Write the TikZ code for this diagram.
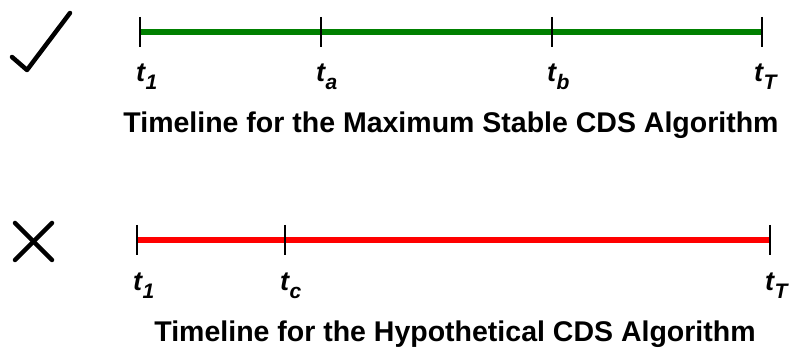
\documentclass[tikz,border=0pt]{standalone}
\usepackage{fontspec}
\setmainfont{Liberation Sans}
\usetikzlibrary{positioning}
\definecolor{okgreen}{RGB}{0,128,0}
\definecolor{badred}{RGB}{255,0,0}
\newcommand{\tsub}[1]{t\kern0.5pt\raisebox{-8pt}{\fontsize{21}{21}\selectfont #1}}

\begin{document}
\begin{tikzpicture}[
  x=1pt, y=-1pt,
  bar/.style={line width=6.5pt},
  tick/.style={line width=2.4pt, black},
  sign/.style={line width=4.5pt, line cap=round, line join=round},
  lab/.style={anchor=base west, inner sep=0pt, font=\fontsize{27}{27}\selectfont\bfseries\itshape},
  caption/.style={anchor=base, inner sep=0pt, font=\fontsize{28.5}{30}\selectfont\bfseries}
]
\useasboundingbox (0,0) rectangle (790,352);
% accepted algorithm
\draw[sign] (12,57) -- (27,70) -- (70,13);
\coordinate (a1) at (140,32);
\coordinate (aa) at (321,32);
\coordinate (ab) at (552,32);
\coordinate (aT) at (762,32);
\draw[bar, okgreen] (a1) -- (aT);
\foreach \p in {a1,aa,ab,aT}
  \draw[tick] ([yshift=15pt]\p) -- ([yshift=-15pt]\p);
\node[lab] (la1) at (136,82) {\tsub{1}};
\node[lab] (laa) at (316,82) {\tsub{a}};
\node[lab] (lab) at (547,82) {\tsub{b}};
\node[lab] (laT) at (754,82) {\tsub{T}};
\node[caption] (capa) at (451,133) {Timeline for the Maximum Stable CDS Algorithm};
% rejected algorithm
\draw[sign] (15,223) -- (52,260);
\draw[sign] (15,260) -- (52,223);
\coordinate (b1) at (137,240);
\coordinate (bc) at (285,240);
\coordinate (bT) at (770,240);
\draw[bar, badred] (b1) -- (bT);
\foreach \p in {b1,bc,bT}
  \draw[tick] ([yshift=15pt]\p) -- ([yshift=-15pt]\p);
\node[lab] (lb1) at (133,291) {\tsub{1}};
\node[lab] (lbc) at (280,291) {\tsub{c}};
\node[lab] (lbT) at (765,291) {\tsub{T}};
\node[caption] (capb) at (455,342) {Timeline for the Hypothetical CDS Algorithm};
\end{tikzpicture}
\end{document}
